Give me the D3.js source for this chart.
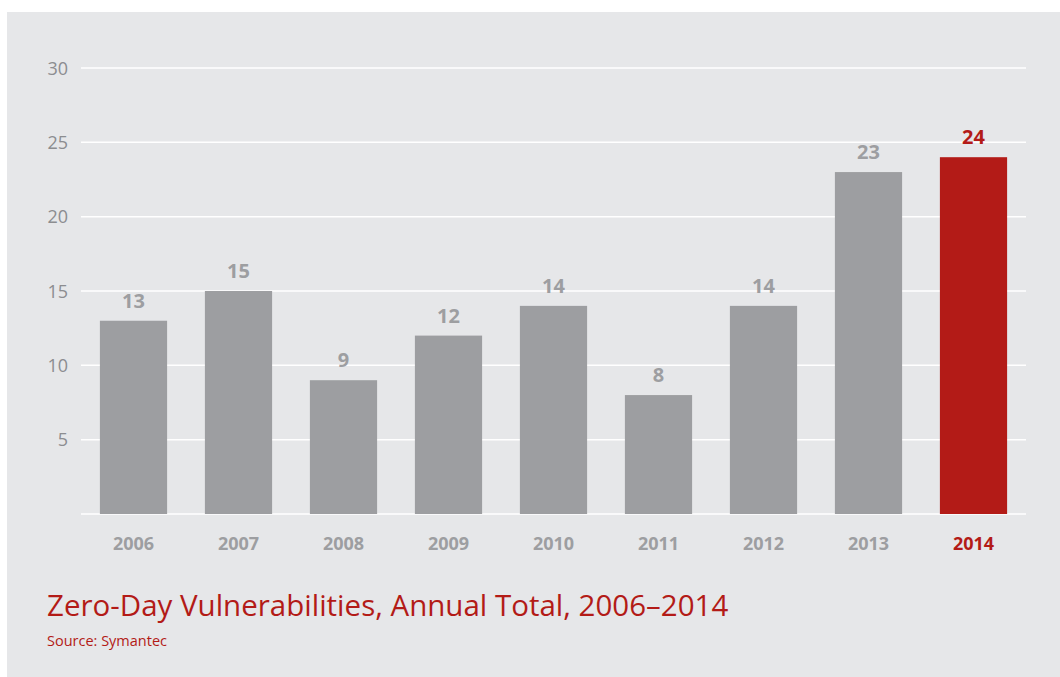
<!DOCTYPE html>
<html><head><meta charset="utf-8">
<script src="https://cdn.jsdelivr.net/npm/d3@7"></script>
<style>
html,body{margin:0;padding:0;background:#fff;}
svg{display:block;font-family:"Open Sans","Noto Sans",sans-serif;}
</style></head>
<body><svg id="c" width="1060" height="677"></svg>
<script>
const years = ["2006","2007","2008","2009","2010","2011","2012","2013","2014"];
const values = [13,15,9,12,14,8,14,23,24];
const yTicks = [5,10,15,20,25,30];
const highlight = "2014";

const FONT = '"Open Sans","Noto Sans",sans-serif';
const svg = d3.select("#c");
svg.append("rect").attr("x",7).attr("y",12).attr("width",1053).attr("height",665).attr("fill","#e6e7e9");

const x = d3.scaleBand().domain(years).range([81,1026]).paddingInner(0.36).paddingOuter(0.18);
const y = d3.scaleLinear().domain([0,30]).range([514,68]);

const gray = "#9d9ea1", red = "#b31b17";

// gridlines
svg.append("g").selectAll("line").data([0].concat(yTicks)).join("line")
  .attr("x1",81).attr("x2",1026).attr("y1",d=>y(d)).attr("y2",d=>y(d))
  .attr("stroke","#fff").attr("stroke-width",1.5);

// y axis labels
const yAxis = d3.axisLeft(y).tickValues(yTicks).tickSize(0).tickPadding(0);
const gy = svg.append("g").attr("transform","translate(68,0)").call(yAxis).attr("font-family",FONT);
gy.select(".domain").remove();
gy.selectAll("text").attr("fill","#8c8d90").attr("font-size",18).attr("font-weight",400).attr("dy","0.34em");

// bars
svg.append("g").selectAll("rect").data(years).join("rect")
  .attr("x",d=>x(d)).attr("width",x.bandwidth())
  .attr("y",(d,i)=>y(values[i])).attr("height",(d,i)=>y(0)-y(values[i]))
  .attr("fill",d=>d===highlight?red:gray);

// value labels
svg.append("g").selectAll("text").data(years).join("text")
  .attr("x",d=>x(d)+x.bandwidth()/2).attr("y",(d,i)=>y(values[i])-13)
  .attr("text-anchor","middle").attr("font-size",20).attr("font-weight",700)
  .attr("fill",d=>d===highlight?red:gray).text((d,i)=>values[i]);

// x axis labels
const xAxis = d3.axisBottom(x).tickSize(0).tickPadding(0);
const gx = svg.append("g").attr("transform","translate(0,537)").call(xAxis).attr("font-family",FONT);
gx.select(".domain").remove();
gx.selectAll("text").attr("font-size",18).attr("font-weight",700).attr("dy","0.71em")
  .attr("fill",d=>d===highlight?red:gray);

svg.append("text").attr("x",47).attr("y",616).attr("font-size",29.5).attr("fill",red)
  .attr("font-weight",400).text("Zero-Day Vulnerabilities, Annual Total, 2006–2014");
svg.append("text").attr("x",47).attr("y",646).attr("font-size",14.5).attr("fill",red)
  .text("Source: Symantec");
</script></body></html>
